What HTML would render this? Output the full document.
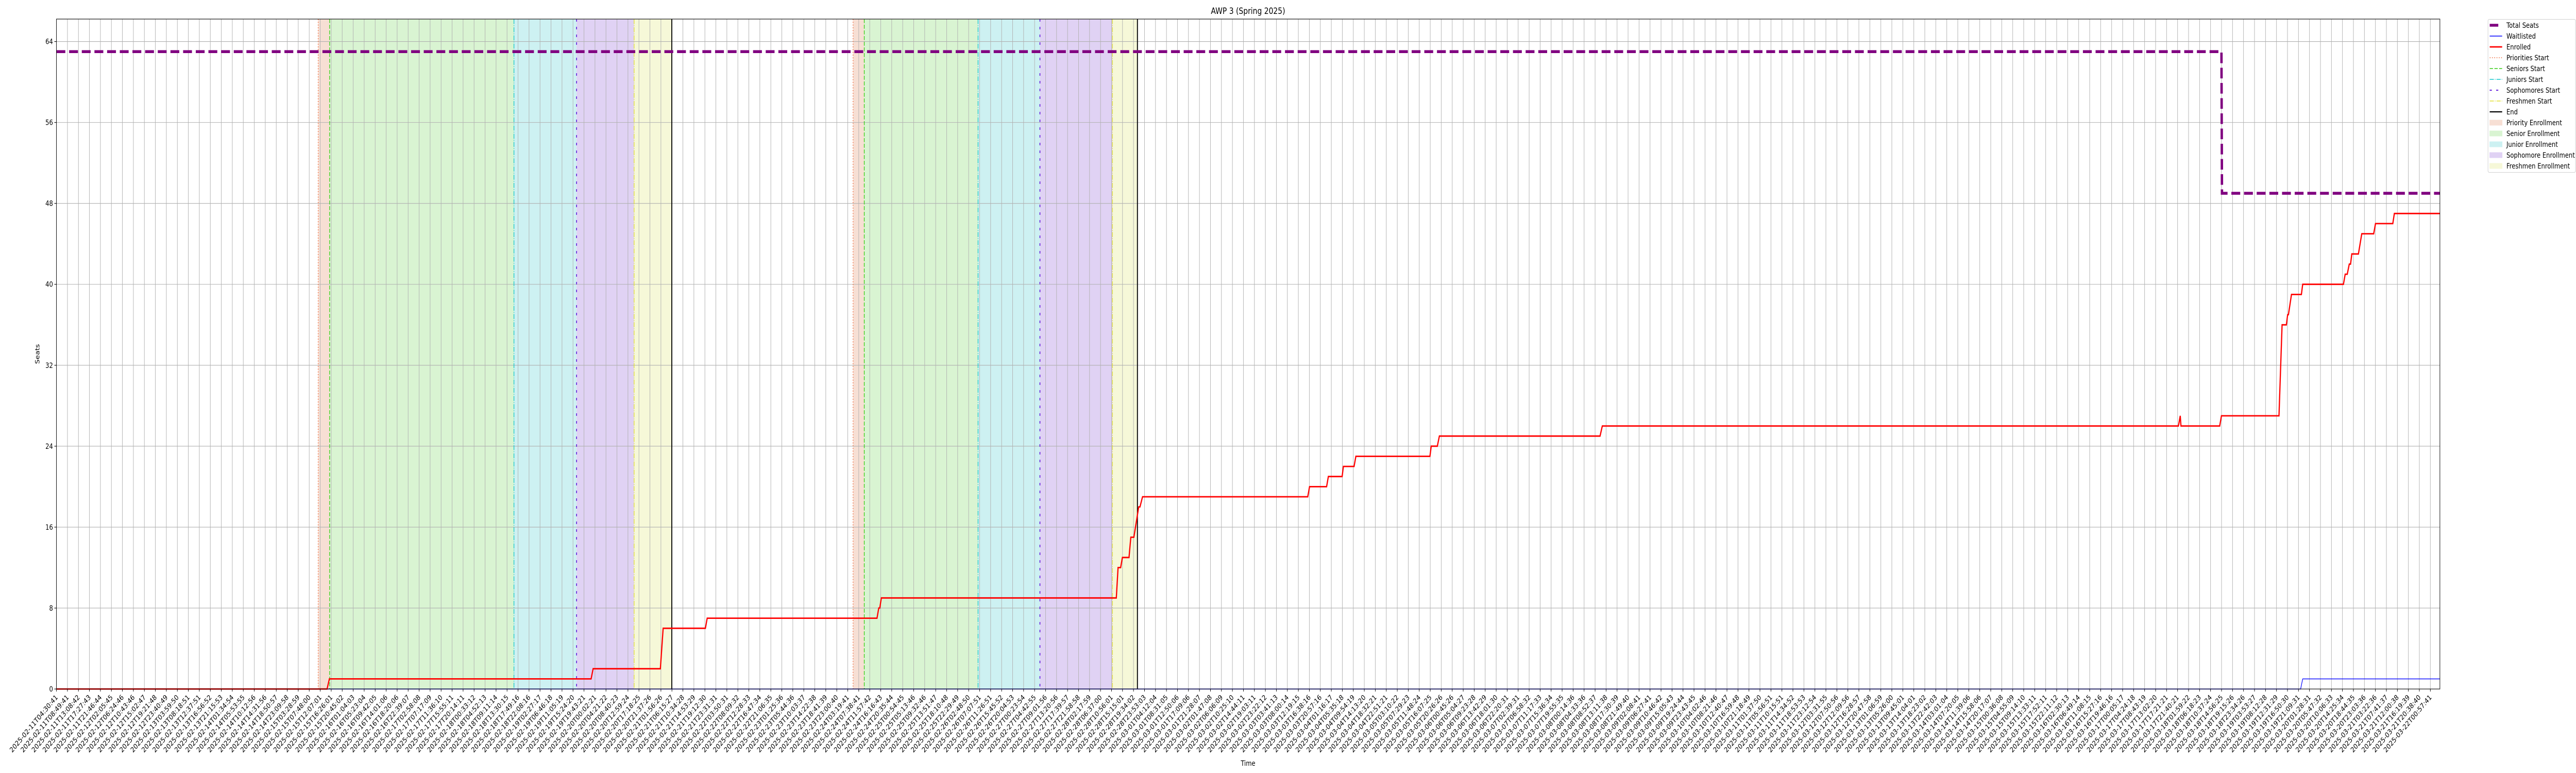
<!DOCTYPE html>
<html><head><meta charset="utf-8"><style>
html,body{margin:0;padding:0;background:#fff;overflow:hidden;width:100vw;height:100vh;}
svg{display:block;font-family:"DejaVu Sans","Liberation Sans",sans-serif;width:100vw;height:100vh;}
</style></head><body>
<svg id="chart" viewBox="0 0 6000 1500" preserveAspectRatio="none" xmlns="http://www.w3.org/2000/svg">
<defs><clipPath id="pageclip"><rect x="0" y="0" width="6000" height="1500"/></clipPath></defs>
<g clip-path="url(#pageclip)">
<rect x="0" y="0" width="6000" height="1500" fill="#fff"/>
<text x="2907" y="27" font-size="16.7" text-anchor="middle">AWP 3 (Spring 2025)</text>
<g id="bands"></g><g id="grid"></g><g id="vlines"></g><g id="series"></g><g id="axes"></g>
<text x="0" y="0" font-size="13.9" text-anchor="middle" transform="translate(92,687) rotate(-90)">Seats</text>
<text x="2907" y="1486" font-size="13.9" text-anchor="middle">Time</text>
<g id="legend"></g>
</g>
</svg>
<script>
// ---- data (hours since 2025-02-11T04:30:41) ----
const enrolledTimes = [0,106.3,107.2,210.0,210.8,237.2,238.3,254.9,255.6,322.3,323.0,323.4,324.0,416.3,417.0,418.0,418.7,421.3,422.0,423.2,425.1,425.6,426.6,491.5,492.2,498.9,499.6,505.0,505.5,509.7,510.4,539.5,540.0,542.4,543.2,606.3,607.2,833.5,834.2,834.5,849.7,850.4,873.0,874.2,875.9,876.4,876.7,877.9,881.8,882.3,898.3,899.0,899.8,900.6,901.1,901.6,904.2,905.5,910.2,910.9,917.7,918.3,936.2];
const enrolledValues = [0,0,1,1,2,2,6,6,7,7,8,8,9,9,12,12,13,13,15,15,18,18,19,19,20,20,21,21,22,22,23,23,24,24,25,25,26,26,27,26,26,27,27,36,36,37,37,39,39,40,40,41,41,42,42,43,43,45,45,46,46,47,47];
const seatTimes = [0,850.4,850.6,936.2];
const seatValues = [63,63,49,49];
const waitTimes = [0,881.5,882.3,936.2];
const waitValues = [0,0,1,1];
const prioritiesStart = [102.8,312.9];
const seniorsStart = [107.3,317.3];
const juniorsStart = [179.7,362.0];
const sophomoresStart = [204.3,386.3];
const freshmenStart = [226.9,414.8];
const endTimes = [241.7,424.6];
const yTicks = [0,8,16,24,32,40,48,56,64];
const startStamp = "2025-02-11T04:30:41";
const lastTickHours = 932.45;
const tickCount = 217;

// ---- scales ----
const X0=131.5, X1=5683, Y0=1337, Y1=37, XMAXH=936.2, YMAX=66.22;
const sx = h => X0 + h/XMAXH*(X1-X0);
const sy = v => Y0 - v/YMAX*(Y0-Y1);
const NS="http://www.w3.org/2000/svg";
function mk(tag, attrs, parent){const e=document.createElementNS(NS,tag);for(const k in attrs)e.setAttribute(k,attrs[k]);parent.appendChild(e);return e;}
const G = id => document.getElementById(id);

const bandDefs = [
  [prioritiesStart, seniorsStart, "#f7dfd4", "priority-enrollment-band"],
  [seniorsStart, juniorsStart, "#d9f4d2", "senior-enrollment-band"],
  [juniorsStart, sophomoresStart, "#cdf1f2", "junior-enrollment-band"],
  [sophomoresStart, freshmenStart, "#e0d2f4", "sophomore-enrollment-band"],
  [freshmenStart, endTimes, "#f6f8d8", "freshmen-enrollment-band"]
];
bandDefs.forEach(b=>{
  for(let i=0;i<b[0].length;i++){
    const r=mk("rect",{x:sx(b[0][i]),y:Y1,width:sx(b[1][i])-sx(b[0][i]),height:Y0-Y1,fill:b[2]},G("bands"));
    
    
  }
});

const pad2 = n => String(n).padStart(2,"0");
const base = Date.UTC(2025,1,11,4,30,41);
function stamp(h){const d=new Date(base+h*3600000);return d.getUTCFullYear()+"-"+pad2(d.getUTCMonth()+1)+"-"+pad2(d.getUTCDate())+"T"+pad2(d.getUTCHours())+":"+pad2(d.getUTCMinutes())+":"+pad2(d.getUTCSeconds());}
for(let i=0;i<tickCount;i++){
  const h=i*lastTickHours/(tickCount-1), x=sx(h);
  const gl=mk("line",{x1:x,x2:x,y1:Y1,y2:Y0,stroke:"#b0b0b0","stroke-width":1.1},G("grid"));
  
  
  const tk=mk("line",{x1:x,x2:x,y1:Y0,y2:Y0+4.9,stroke:"#000","stroke-width":1.1},G("axes"));
  
  
  const t=mk("text",{"font-size":13.9,"text-anchor":"end",transform:`translate(${x+4},${Y0+17}) rotate(-45)`},G("axes"));
  t.textContent = i===0?startStamp:stamp(h);
  
  
}
yTicks.forEach(v=>{
  const y=sy(v);
  const gl=mk("line",{x1:X0,x2:X1,y1:y,y2:y,stroke:"#b0b0b0","stroke-width":1.1},G("grid"));
  
  
  const tk=mk("line",{x1:X0-4.9,x2:X0,y1:y,y2:y,stroke:"#000","stroke-width":1.1},G("axes"));
  
  
  const t=mk("text",{x:X0-8,y:y+5,"font-size":13.9,"text-anchor":"end"},G("axes"));
  t.textContent=v;
  
  
});

const vDefs = [
  [prioritiesStart,"#ee6a3c","2,3.3",1.5,"priorities-start-line"],
  [seniorsStart,"#33cc11","7.7,3.3",1.5,"seniors-start-line"],
  [juniorsStart,"#11c6cc","9.6,2.4,1.5,2.4",1.5,"juniors-start-line"],
  [sophomoresStart,"#6622dd","5,10",2,"sophomores-start-line"],
  [freshmenStart,"#e2e032","9.6,2.4,1.5,2.4",1.5,"freshmen-start-line"],
  [endTimes,"#000","",2.2,"end-line"]
];
vDefs.forEach(d=>{
  d[0].forEach(h=>{
    const a={x1:sx(h),x2:sx(h),y1:Y1,y2:Y0,stroke:d[1],"stroke-width":d[3]};
    if(d[2])a["stroke-dasharray"]=d[2];
    const l=mk("line",a,G("vlines"));
    
    
  });
});

function pts(ts,vs){return ts.map((t,i)=>sx(t).toFixed(1)+","+sy(vs[i]).toFixed(1)).join(" ");}
const seats=mk("polyline",{points:pts(seatTimes,seatValues),fill:"none",stroke:"#800080","stroke-width":5.6,"stroke-dasharray":"20.6,8.9"},G("series"));


const wait=mk("polyline",{points:pts(waitTimes,waitValues),fill:"none",stroke:"#0000ff","stroke-width":1.4},G("series"));


const enr=mk("polyline",{points:pts(enrolledTimes,enrolledValues),fill:"none",stroke:"#ff0000","stroke-width":2.8},G("series"));



const fr=mk("rect",{x:X0,y:Y1,width:X1-X0,height:Y0-Y1,fill:"none",stroke:"#000","stroke-width":1.1},G("axes"));



const L=G("legend");
mk("rect",{x:5795,y:37.5,width:204,height:297,rx:3,fill:"#fff",stroke:"#d0d0d0","stroke-width":1.1},L);
const legendItems=[
 ["Total Seats","line","#800080","",5.6],
 ["Waitlisted","line","#0000ff","",1.6],
 ["Enrolled","line","#ff0000","",2.8],
 ["Priorities Start","line","#ee6a3c","2,3.3",1.5],
 ["Seniors Start","line","#33cc11","7.7,3.3",1.5],
 ["Juniors Start","line","#11c6cc","9.6,2.4,1.5,2.4",1.5],
 ["Sophomores Start","line","#6622dd","5,10",2],
 ["Freshmen Start","line","#e2e032","9.6,2.4,1.5,2.4",1.5],
 ["End","line","#000","",2.2],
 ["Priority Enrollment","patch","#f7dfd4"],
 ["Senior Enrollment","patch","#d9f4d2"],
 ["Junior Enrollment","patch","#cdf1f2"],
 ["Sophomore Enrollment","patch","#e0d2f4"],
 ["Freshmen Enrollment","patch","#f6f8d8"]
];
legendItems.forEach((it,i)=>{
  const y=49+i*21;
  const g=mk("g",{},L);
  
  
  if(it[1]==="line"){
    const a={x1:5799,x2:5828,y1:y,y2:y,stroke:it[2],"stroke-width":it[4]};
    if(it[3])a["stroke-dasharray"]=it[3];
    if(i===0){a.x2=5819;}
    mk("line",a,g);
  } else {
    mk("rect",{x:5799,y:y-5,width:29,height:10,fill:it[2],stroke:it[2]},g);
  }
  const t=mk("text",{x:5838,y:y+5,"font-size":13.9},g);
  t.textContent=it[0];
});
</script>
</body></html>
